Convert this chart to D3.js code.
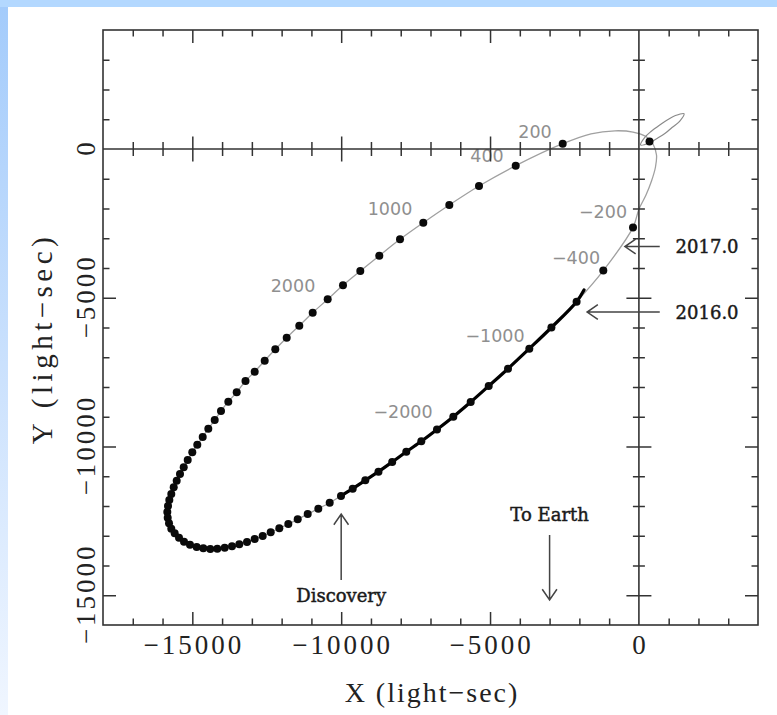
<!DOCTYPE html>
<html><head><meta charset="utf-8">
<script src="https://cdn.jsdelivr.net/npm/d3@7"></script>
<style>html,body{margin:0;padding:0;background:#fff;}svg{display:block}</style>
</head><body>
<script>
// ---------- data (light-seconds) ----------
// orbit sample points (every ~200 days), from +200 d after periastron round to -200 d
const dotX = [-2560,-4138,-5371,-6368,-7242,-8024,-8720,-9358,-9939,-10453,-10957,-11407,-11830,-12213,-12569,-12905,-13214,-13509,-13791,-14037,-14248,-14463,-14651,-14833,-15001,-15155,-15289,-15414,-15525,-15625,-15706,-15773,-15817,-15840,-15827,-15783,-15706,-15592,-15447,-15279,-15078,-14853,-14631,-14396,-14161,-13912,-13667,-13422,-13163,-12905,-12636,-12367,-12078,-11776,-11460,-11124,-10768,-10386,-10006,-9613,-9190,-8747,-8286,-7813,-7309,-6782,-6234,-5650,-5045,-4397,-3681,-2939,-2093,-1196,-198];
const dotY = [178,-561,-1244,-1882,-2477,-3035,-3587,-4101,-4581,-5052,-5502,-5939,-6343,-6733,-7116,-7486,-7798,-8178,-8494,-8807,-9109,-9401,-9680,-9939,-10195,-10454,-10699,-10924,-11149,-11371,-11596,-11798,-12000,-12202,-12393,-12581,-12763,-12917,-13065,-13200,-13301,-13378,-13422,-13445,-13435,-13401,-13354,-13287,-13210,-13109,-13008,-12884,-12749,-12605,-12447,-12269,-12090,-11889,-11664,-11418,-11136,-10847,-10521,-10178,-9825,-9428,-8998,-8504,-7966,-7385,-6712,-6000,-5133,-4087,-2635];
// orbit path around periastron (no dots there)
const periX = [3, 238, 423, 557, 591, 473, 238, -198, -803, -1609];
const periY = [-2017, -1546, -1076, -605, -202, 168, 420, 571, 612, 511];
// observed (timed) stretch: from dot index 58 (discovery) to 72, then ends here
const obsStart = 58, obsEnd = 72;
const obsEndX = -1844, obsEndY = -4739;
// companion (Be star) orbit outline and its position
const compX = [54, 205, 406, 688, 977, 1226, 1515, 1367, 1112, 883, 608, 342];
const compY = [134, 397, 588, 800, 992, 1126, 1187, 931, 723, 528, 353, 202];
const compDotX = [356], compDotY = [252];
// day labels
const dayText = ["200","400","1000","2000","\u2212200","\u2212400","\u22121000","\u22122000"];
const dayX = [-3490,-5102,-8360,-11618,-1206,-2113,-4833,-7924];
const dayY = [588,-235,-2017,-4605,-2118,-3664,-6302,-8857];
// annotations
const annText = ["2017.0","2016.0","Discovery","To Earth"];
const annX = [2290, 2290, -10000, -3000];
const annY = [-3280, -5480, -15025, -12300];
const arrFromX = [700, 700, -10000, -3000];
const arrFromY = [-3280, -5480, -14490, -12975];
const arrToX = [-470, -1740, -10000, -3000];
const arrToY = [-3280, -5480, -12270, -15160];
// axes
const xDomain = [-18000, 4000], yDomain = [-16000, 4000];
const majorTicks = [-15000, -10000, -5000, 0];
const xTickLabels = [-15000, -10000, -5000, 0];
const yTickLabels = [0, -5000, -10000, -15000];
const xTitle = "X (light\u2212sec)", yTitle = "Y (light\u2212sec)";

// ---------- drawing ----------
const W = 777, H = 715;
const L = 103, R = 758, T = 30, B = 625;
const x = d3.scaleLinear().domain(xDomain).range([L, R]);
const y = d3.scaleLinear().domain(yDomain).range([B, T]);

const svg = d3.select("body").append("svg").attr("width", W).attr("height", H);
const defs = svg.append("defs");
const lg = defs.append("linearGradient").attr("id","lb").attr("x1",0).attr("y1",0).attr("x2",0).attr("y2",1);
lg.append("stop").attr("offset","0%").attr("stop-color","#a3cbfb");
lg.append("stop").attr("offset","100%").attr("stop-color","#f0f6ff");
svg.append("rect").attr("x",0).attr("y",0).attr("width",8).attr("height",H).attr("fill","url(#lb)");
svg.append("rect").attr("x",0).attr("y",0).attr("width",W).attr("height",7).attr("fill","#b3d8ff");

const dots = dotX.map((d,i)=>[d, dotY[i]]);
const peri = periX.map((d,i)=>[d, periY[i]]);
const line = d3.line().x(d=>x(d[0])).y(d=>y(d[1]));

// day labels (under axes)
svg.append("g").selectAll("text").data(dayText).join("text")
  .attr("x",(d,i)=>x(dayX[i])).attr("y",(d,i)=>y(dayY[i]))
  .attr("text-anchor","middle").attr("dominant-baseline","central")
  .attr("font-family","DejaVu Sans").attr("font-size",17.5).attr("fill","#8f8f8f")
  .text(d=>d);

// full orbit
svg.append("path").datum(dots.concat(peri))
  .attr("d", line.curve(d3.curveCatmullRomClosed.alpha(0.5)))
  .attr("fill","none").attr("stroke","#a0a0a0").attr("stroke-width",1.3);

// companion orbit
svg.append("path").datum(compX.map((d,i)=>[d, compY[i]]))
  .attr("d", d3.line().x(d=>x(d[0])).y(d=>y(d[1])).curve(d3.curveCatmullRomClosed.alpha(0.5)))
  .attr("fill","none").attr("stroke","#8a8a8a").attr("stroke-width",1.2);

// observed stretch
const obs = dots.slice(obsStart, obsEnd+1).concat([[obsEndX, obsEndY]]);
svg.append("path").datum(obs)
  .attr("d", d3.line().x(d=>x(d[0])).y(d=>y(d[1])).curve(d3.curveCatmullRom.alpha(0.5)))
  .attr("fill","none").attr("stroke","#000").attr("stroke-width",3.2).attr("stroke-linecap","round");

// dots
svg.append("g").selectAll("circle").data(dots).join("circle")
  .attr("cx",d=>x(d[0])).attr("cy",d=>y(d[1])).attr("r",4).attr("fill","#0a0a0a");
svg.append("g").selectAll("circle").data(compDotX).join("circle")
  .attr("cx",(d,i)=>x(d)).attr("cy",(d,i)=>y(compDotY[i])).attr("r",4).attr("fill","#0a0a0a");

// ---------- axes ----------
const axCol = "#333";
const minorX = d3.range(-17000, 4000, 1000).filter(v=>!majorTicks.includes(v));
const minorY = d3.range(-16000, 4001, 1000).filter(v=>!majorTicks.includes(v) && v>yDomain[0] && v<yDomain[1]);
const majorNoZero = majorTicks.filter(v=>v!==0);
function styleAxis(g){
  g.selectAll(".domain").remove();
  g.selectAll("line").attr("stroke",axCol).attr("stroke-width",1.5);
  g.selectAll("text").remove();
}
function addAxis(axisFn, scale, tx, ty, vals, size){
  svg.append("g").attr("transform",`translate(${tx},${ty})`)
    .call(axisFn(scale).tickValues(vals).tickSize(size).tickSizeOuter(0).tickFormat(""))
    .call(styleAxis);
}
// frame ticks (inward)
addAxis(d3.axisBottom, x, 0, B, minorX, -6.5);
addAxis(d3.axisBottom, x, 0, B, majorNoZero, -13);
addAxis(d3.axisTop, x, 0, T, minorX, -6.5);
addAxis(d3.axisTop, x, 0, T, majorNoZero, -13);
addAxis(d3.axisLeft, y, L, 0, minorY, -6.5);
addAxis(d3.axisLeft, y, L, 0, majorNoZero, -13);
addAxis(d3.axisRight, y, R, 0, minorY, -6.5);
addAxis(d3.axisRight, y, R, 0, majorNoZero, -13);
// zero lines with crossing ticks
addAxis(d3.axisBottom, x, 0, y(0), minorX, 7);
addAxis(d3.axisTop, x, 0, y(0), minorX, 7);
addAxis(d3.axisBottom, x, 0, y(0), majorNoZero, 12.5);
addAxis(d3.axisTop, x, 0, y(0), majorNoZero, 12.5);
addAxis(d3.axisLeft, y, x(0), 0, minorY, 6);
addAxis(d3.axisRight, y, x(0), 0, minorY, 6);
addAxis(d3.axisLeft, y, x(0), 0, majorNoZero, 12.5);
addAxis(d3.axisRight, y, x(0), 0, majorNoZero, 12.5);
svg.append("line").attr("x1",L).attr("x2",R).attr("y1",y(0)).attr("y2",y(0)).attr("stroke",axCol).attr("stroke-width",1.6);
svg.append("line").attr("x1",x(0)).attr("x2",x(0)).attr("y1",T).attr("y2",B).attr("stroke",axCol).attr("stroke-width",1.6);
svg.append("rect").attr("x",L).attr("y",T).attr("width",R-L).attr("height",B-T)
  .attr("fill","none").attr("stroke",axCol).attr("stroke-width",1.6);

// tick labels
const fmt = d3.format("d");
const lblFont = "Liberation Serif", lblSize = 27, lblLS = 3;
svg.append("g").selectAll("text").data(xTickLabels).join("text")
  .attr("x",d=>x(d)+lblLS/2).attr("y",654)
  .attr("text-anchor","middle").attr("font-family",lblFont).attr("font-size",lblSize)
  .attr("letter-spacing",lblLS).attr("fill","#222").text(d=>fmt(d));
svg.append("g").selectAll("text").data(yTickLabels).join("text")
  .attr("transform",d=>`translate(86,${y(d)}) rotate(-90)`)
  .attr("x",lblLS/2).attr("text-anchor","middle").attr("dominant-baseline","central")
  .attr("font-family",lblFont).attr("font-size",lblSize)
  .attr("letter-spacing",lblLS).attr("fill","#222").text(d=>fmt(d));
// titles
svg.append("text").attr("x",432).attr("y",702).attr("text-anchor","middle")
  .attr("font-family",lblFont).attr("font-size",28).attr("letter-spacing",2).attr("fill","#222").text(xTitle);
svg.append("text").attr("transform","translate(42,341) rotate(-90)").attr("x",2.5).attr("text-anchor","middle")
  .attr("dominant-baseline","central")
  .attr("font-family",lblFont).attr("font-size",29).attr("letter-spacing",4.5).attr("fill","#222").text(yTitle);

// annotations
svg.append("g").selectAll("text").data(annText).join("text")
  .attr("x",(d,i)=>x(annX[i])).attr("y",(d,i)=>y(annY[i]))
  .attr("text-anchor","middle").attr("dominant-baseline","central")
  .attr("font-family","DejaVu Serif").attr("font-size",18).attr("fill","#1a1a1a")
  .attr("stroke","#1a1a1a").attr("stroke-width",0.45).text(d=>d);
const ag = svg.append("g").attr("stroke","#444").attr("stroke-width",1.5).attr("fill","none");
annText.forEach((t,i)=>{
  const x1=x(arrFromX[i]), y1=y(arrFromY[i]), x2=x(arrToX[i]), y2=y(arrToY[i]);
  const a=Math.atan2(y2-y1,x2-x1), hl=13, hw=0.6;
  const p=d3.path();
  p.moveTo(x1,y1); p.lineTo(x2,y2);
  p.moveTo(x2-hl*Math.cos(a-hw), y2-hl*Math.sin(a-hw)); p.lineTo(x2,y2);
  p.lineTo(x2-hl*Math.cos(a+hw), y2-hl*Math.sin(a+hw));
  ag.append("path").attr("d",p.toString());
});
</script>
</body></html>
